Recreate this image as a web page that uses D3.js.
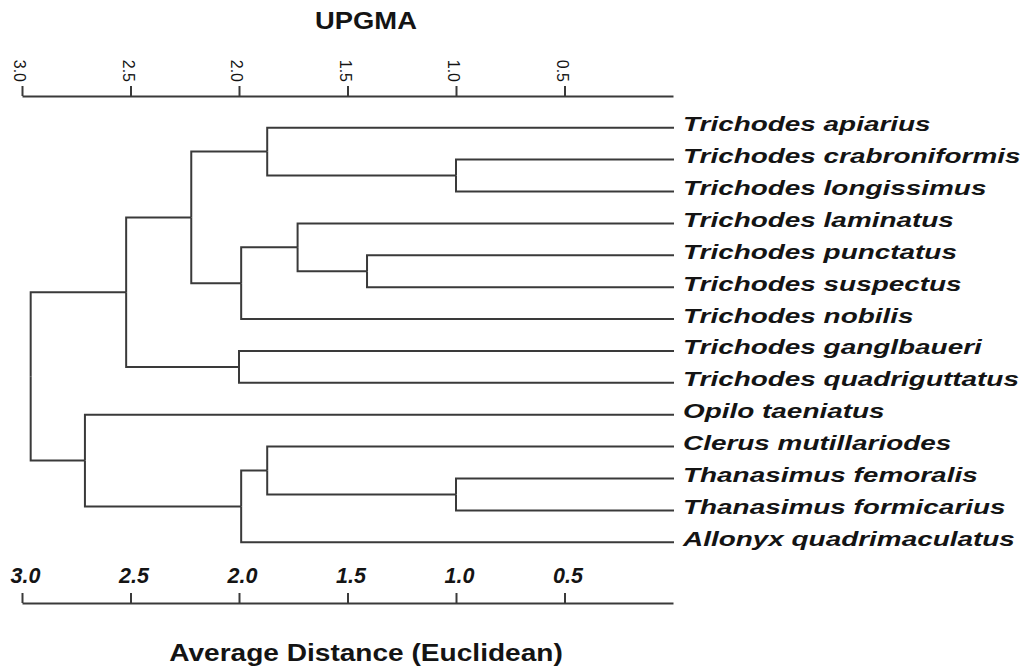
<!DOCTYPE html>
<html>
<head>
<meta charset="utf-8">
<script src="https://cdn.jsdelivr.net/npm/d3@7"></script>
<style>
  html, body { margin: 0; padding: 0; background: #fff; }
  svg { display: block; }
  text { font-family: "Liberation Sans", Arial, sans-serif; fill: #141414; }
</style>
</head>
<body>
<svg id="chart" width="1033" height="668"></svg>
<script>
// ---- data ----
const leaves = [
  "Trichodes apiarius",
  "Trichodes crabroniformis",
  "Trichodes longissimus",
  "Trichodes laminatus",
  "Trichodes punctatus",
  "Trichodes suspectus",
  "Trichodes nobilis",
  "Trichodes ganglbaueri",
  "Trichodes quadriguttatus",
  "Opilo taeniatus",
  "Clerus mutillariodes",
  "Thanasimus femoralis",
  "Thanasimus formicarius",
  "Allonyx quadrimaculatus"
];
// UPGMA merges (clusters M1..M13): left member, right member, joining distance
const mergeIds    = ["M1","M2","M3","M4","M5","M6","M7","M8","M9","M10","M11","M12","M13"];
const mergeLeft   = ["Trichodes crabroniformis","Trichodes apiarius","Trichodes punctatus","Trichodes laminatus","M4","M2","Trichodes ganglbaueri","M6","Thanasimus femoralis","Clerus mutillariodes","M10","Opilo taeniatus","M8"];
const mergeRight  = ["Trichodes longissimus","M1","Trichodes suspectus","M3","Trichodes nobilis","M5","Trichodes quadriguttatus","M7","Thanasimus formicarius","M9","Allonyx quadrimaculatus","M11","M12"];
const mergeHeight = [1.0, 1.87, 1.41, 1.73, 1.99, 2.22, 2.0, 2.52, 1.0, 1.87, 1.99, 2.71, 2.96];
const axisTicks = [3.0, 2.5, 2.0, 1.5, 1.0, 0.5];
const title = "UPGMA";
const xTitle = "Average Distance (Euclidean)";

// ---- layout ----
const svg = d3.select("#chart");
const x = d3.scaleLinear().domain([3, 0]).range([22, 673]);
const y = d3.scalePoint().domain(leaves).range([127.7, 542.3]);
const lineColor = "#3a3a3a";

// build tree
const nodes = {};
leaves.forEach(n => nodes[n] = { name: n, height: 0 });
mergeIds.forEach((id, i) => {
  nodes[id] = { name: id, height: mergeHeight[i], children: [nodes[mergeLeft[i]], nodes[mergeRight[i]]] };
});
const root = d3.hierarchy(nodes[mergeIds[mergeIds.length - 1]]);
root.eachAfter(d => {
  d.px = x(d.data.height);
  if (d.children) d.py = d3.mean(d.children, c => c.py);
  else d.py = y(d.data.name);
});

// links (elbows)
svg.append("g").selectAll("path")
  .data(root.links())
  .join("path")
  .attr("d", l => `M${l.source.px},${l.source.py}V${l.target.py}H${l.target.px + (l.target.children ? 0 : 1)}`)
  .attr("fill", "none")
  .attr("stroke", lineColor)
  .attr("stroke-width", 2);

// leaf labels
svg.append("g").selectAll("text")
  .data(root.leaves())
  .join("text")
  .attr("transform", d => `translate(683,${d.py + 3.5}) scale(1.33,1)`)
  .style("font-size", "21px")
  .style("font-weight", "bold")
  .style("font-style", "italic")
  .text(d => d.data.name);

// top axis
const topAxis = svg.append("g")
  .attr("transform", "translate(0,96)")
  .call(d3.axisTop(x).tickValues(axisTicks).tickFormat(d3.format(".1f")).tickSize(10).tickSizeOuter(0));
topAxis.select(".domain").attr("stroke", lineColor).attr("stroke-width", 2);
topAxis.selectAll(".tick line").attr("stroke", lineColor).attr("stroke-width", 2);
topAxis.selectAll(".tick text")
  .attr("transform", "rotate(90)")
  .attr("x", -14)
  .attr("y", 0)
  .attr("dy", "0.52em")
  .attr("text-anchor", "end")
  .style("font-size", "16px")
  .style("font-family", "\"Liberation Sans\", Arial, sans-serif")
  .attr("fill", "#222");

// bottom axis (ticks and labels above line)
const botAxis = svg.append("g")
  .attr("transform", "translate(0,603)")
  .call(d3.axisTop(x).tickValues(axisTicks).tickFormat(d3.format(".1f")).tickSize(10).tickSizeOuter(0).tickPadding(10));
botAxis.select(".domain").attr("stroke", lineColor).attr("stroke-width", 2);
botAxis.selectAll(".tick line").attr("stroke", lineColor).attr("stroke-width", 2);
botAxis.selectAll(".tick text")
  .attr("dy", "0em")
  .attr("dx", 3)
  .style("font-size", "21.5px")
  .style("font-weight", "bold")
  .style("font-style", "italic")
  .style("font-family", "\"Liberation Sans\", Arial, sans-serif")
  .attr("fill", "#141414");

// titles
svg.append("text")
  .attr("transform", "translate(366,29.3) scale(1.14,1)")
  .attr("text-anchor", "middle")
  .style("font-size", "24px")
  .style("font-weight", "bold")
  .text(title);

svg.append("text")
  .attr("transform", "translate(366,661) scale(1.17,1)")
  .attr("text-anchor", "middle")
  .style("font-size", "24px")
  .style("font-weight", "bold")
  .text(xTitle);
</script>
</body>
</html>
